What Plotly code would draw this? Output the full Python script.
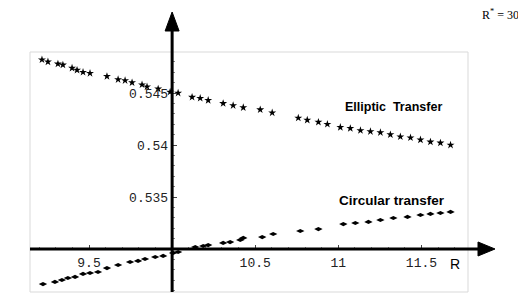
import plotly.graph_objects as go

# ---------------- data ----------------
R_elliptic = [9.217, 9.253, 9.313, 9.343, 9.398, 9.428, 9.464, 9.506, 9.608, 9.675,
              9.717, 9.759, 9.819, 9.849, 9.916, 9.988, 10.036, 10.120, 10.169, 10.217,
              10.307, 10.367, 10.428, 10.530, 10.602, 10.759, 10.813, 10.880, 10.934, 11.012,
              11.072, 11.133, 11.193, 11.253, 11.313, 11.373, 11.434, 11.494, 11.554, 11.614,
              11.675]
V_elliptic = [0.5482, 0.5480, 0.5478, 0.5477, 0.5474, 0.5472, 0.5470, 0.5469, 0.5466, 0.5463,
              0.5462, 0.5460, 0.5458, 0.5456, 0.5454, 0.5451, 0.5450, 0.5446, 0.5445, 0.5443,
              0.5440, 0.5438, 0.5436, 0.5434, 0.5431, 0.5426, 0.5424, 0.5422, 0.5420, 0.5417,
              0.5416, 0.5414, 0.5413, 0.5412, 0.5410, 0.5408, 0.5407, 0.5405, 0.5403, 0.5402,
              0.5400]

R_circular = [9.223, 9.295, 9.337, 9.373, 9.416, 9.464, 9.506, 9.554, 9.608, 9.675,
              9.747, 9.795, 9.837, 9.898, 9.946, 10.006, 10.036, 10.139, 10.187, 10.217,
              10.307, 10.349, 10.410, 10.428, 10.542, 10.608, 10.771, 10.880, 11.030, 11.102,
              11.181, 11.253, 11.331, 11.416, 11.494, 11.554, 11.614, 11.675]
V_circular = [0.52663, 0.52683, 0.52702, 0.52721, 0.52731, 0.52760, 0.52769, 0.52779, 0.52817, 0.52846,
              0.52875, 0.52885, 0.52904, 0.52923, 0.52933, 0.52962, 0.52971, 0.53019, 0.53029, 0.53038,
              0.53058, 0.53067, 0.53087, 0.53106, 0.53115, 0.53144, 0.53173, 0.53192, 0.53240, 0.53250,
              0.53260, 0.53279, 0.53298, 0.53308, 0.53327, 0.53337, 0.53346, 0.53356]

x_tickvals = [9.5, 10.5, 11, 11.5]
x_ticktext = ["9.5", "10.5", "11", "11.5"]
y_tickvals = [0.535, 0.54, 0.545]
y_ticktext = ["0.535", "0.54", "0.545"]

X_RANGE = [9.145, 11.78]
Y_RANGE = [0.525865, 0.548942]
ORIGIN_X, ORIGIN_Y = 10.0, 0.53

# ---------------- layout geometry ----------------
# the page body has an 8px margin, so the figure is 8px smaller and margins shifted
BODY = 8
W, H = 526 - BODY, 297 - BODY
ML, MR, MT, MB = 30 - BODY, 58, 52 - BODY, 5
PW, PH = W - ML - MR, H - MT - MB

ox = (ORIGIN_X - X_RANGE[0]) / (X_RANGE[1] - X_RANGE[0])   # paper x of y-axis
oy = (ORIGIN_Y - Y_RANGE[0]) / (Y_RANGE[1] - Y_RANGE[0])   # paper y of x-axis

def px2u(dx):  # pixel width -> paper x
    return dx / PW

def px2v(dy):  # pixel height -> paper y
    return dy / PH

fig = go.Figure()
fig.add_trace(go.Scatter(x=R_elliptic, y=V_elliptic, mode="markers",
                         marker=dict(symbol="star", size=6, color="black"),
                         showlegend=False, cliponaxis=False))
fig.add_trace(go.Scatter(x=R_circular, y=V_circular, mode="markers",
                         marker=dict(symbol="diamond-wide", size=6, color="black"),
                         showlegend=False, cliponaxis=False))

tickfont = dict(family="Liberation Mono", size=13, color="#222")

fig.update_layout(
    width=W, height=H,
    margin=dict(l=ML, r=MR, t=MT, b=MB, autoexpand=False),
    paper_bgcolor="white", plot_bgcolor="rgba(0,0,0,0)",
    xaxis=dict(range=X_RANGE, anchor="free", position=oy, showgrid=False,
               zeroline=False, showline=False, automargin=False,
               tickmode="array", tickvals=x_tickvals, ticktext=x_ticktext,
               ticks="inside", ticklen=4, tickwidth=1, tickcolor="#444",
               tickfont=tickfont, ticklabelstandoff=4,
               minor=dict(dtick=0.1, tick0=0, ticks="inside", ticklen=2, tickcolor="#888")),
    yaxis=dict(range=Y_RANGE, anchor="free", position=ox, showgrid=False,
               zeroline=False, showline=False, automargin=False,
               tickmode="array", tickvals=y_tickvals, ticktext=y_ticktext,
               ticks="inside", ticklen=4, tickwidth=1, tickcolor="#444",
               tickfont=tickfont, ticklabelstandoff=4,
               minor=dict(dtick=0.001, tick0=0, ticks="inside", ticklen=2, tickcolor="#888")),
)

shapes = []
# light frame
shapes.append(dict(type="rect", xref="paper", yref="paper", x0=0, x1=1, y0=0, y1=1,
                   line=dict(color="#d9d9d9", width=1), layer="below"))
# x axis with arrow
x_tip = 1 + px2u(27)
x_base = 1 + px2u(10)
shapes.append(dict(type="line", xref="paper", yref="paper", x0=0, x1=x_base + px2u(1),
                   y0=oy, y1=oy, line=dict(color="black", width=3)))
shapes.append(dict(type="path", xref="paper", yref="paper",
                   path=f"M {x_base},{oy - px2v(7)} L {x_tip},{oy} L {x_base},{oy + px2v(7)} Z",
                   fillcolor="black", line=dict(color="black", width=1)))
# y axis with arrow
y_tip = 1 + px2v(40)
y_base = 1 + px2v(21)
shapes.append(dict(type="line", xref="paper", yref="paper", x0=ox, x1=ox,
                   y0=0, y1=y_base + px2v(1), line=dict(color="black", width=3)))
shapes.append(dict(type="path", xref="paper", yref="paper",
                   path=f"M {ox - px2u(7)},{y_base} L {ox},{y_tip} L {ox + px2u(7)},{y_base} Z",
                   fillcolor="black", line=dict(color="black", width=1)))
fig.update_layout(shapes=shapes)

fig.add_annotation(x=11.33, y=0.5437, xref="x", yref="y", text="<b>Elliptic  Transfer</b>",
                   showarrow=False, font=dict(family="Liberation Sans", size=12.5, color="black"))
fig.add_annotation(x=11.32, y=0.5347, xref="x", yref="y", text="<b>Circular transfer</b>",
                   showarrow=False, font=dict(family="Liberation Sans", size=13.5, color="black"))
fig.add_annotation(x=11.70, y=0.52856, xref="x", yref="y", text="R",
                   showarrow=False, font=dict(family="Liberation Sans", size=14, color="black"))
fig.add_annotation(x=1 + px2u(32), y=1 + px2v(37), xref="paper", yref="paper",
                   xanchor="center", yanchor="middle",
                   text="R<sup>*</sup> = 30", showarrow=False,
                   font=dict(family="Liberation Serif", size=12, color="black"))

fig.write_html("out.html")
